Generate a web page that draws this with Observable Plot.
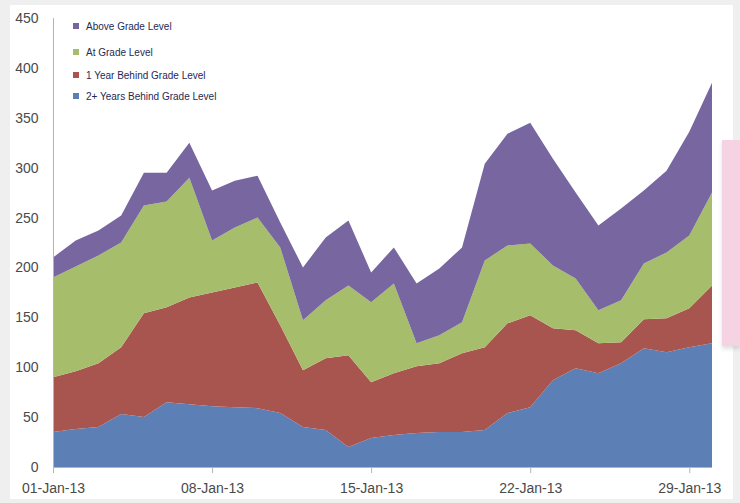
<!DOCTYPE html>
<html>
<head>
<meta charset="utf-8">
<script src="https://cdn.jsdelivr.net/npm/d3@7"></script>
<script src="https://cdn.jsdelivr.net/npm/@observablehq/plot@0.6"></script>
<style>
  html, body { margin: 0; padding: 0; }
  body { width: 740px; height: 503px; background: #efefef; position: relative; overflow: hidden; font-family: "Liberation Sans", Arial, sans-serif; }
  #panel { position: absolute; left: 10px; top: 5px; width: 723px; height: 494px; background: #ffffff; }
  #chart { position: absolute; left: 0; top: 0; }
  #legend { position: absolute; left: 0; top: 0; width: 0; height: 0; }
  .item { position: absolute; left: 73px; font-size: 10px; color: #1e2a55; white-space: nowrap; line-height: 12px; }
  .item span.sw { display: inline-block; width: 6px; height: 6px; margin-right: 7px; vertical-align: 1px; }
  #pink { position: absolute; left: 722px; top: 140px; width: 18px; height: 206px; background: #f6d3e2; box-shadow: 0 3px 4px rgba(0,0,0,0.12); }
</style>
</head>
<body>
<div id="panel"></div>
<div id="chart"></div>
<div id="legend"></div>
<div id="pink"></div>
<script>
const dates = ["2013-01-01","2013-01-02","2013-01-03","2013-01-04","2013-01-05","2013-01-06","2013-01-07","2013-01-08","2013-01-09","2013-01-10",
               "2013-01-11","2013-01-12","2013-01-13","2013-01-14","2013-01-15","2013-01-16","2013-01-17","2013-01-18","2013-01-19","2013-01-20",
               "2013-01-21","2013-01-22","2013-01-23","2013-01-24","2013-01-25","2013-01-26","2013-01-27","2013-01-28","2013-01-29","2013-01-30"];
const seriesNames = ["Above Grade Level", "At Grade Level", "1 Year Behind Grade Level", "2+ Years Behind Grade Level"];
const seriesColors = ["#7766a0", "#a6bd6b", "#a9554f", "#5c7fb6"];
const twoPlusBehind = [35,38,40,53,50,65,63,61,60,59,54,40,37,20,29,32,34,35,35,37,54,60,87,99,94,104,119,115,120,124];
const oneYearBehind = [55,58,64,67,104,95,107,114,120,126,88,57,72,92,56,62,67,69,79,83,90,92,52,38,30,21,29,34,39,58];
const atGrade       = [100,105,108,105,108,106,120,52,60,65,78,50,58,70,80,90,23,28,31,87,78,72,63,52,33,42,56,66,73,93];
const aboveGrade    = [20,26,25,27,33,29,35,50,47,42,25,53,63,65,30,36,60,67,75,97,112,121,107,86,85,92,73,82,104,110];
const yTicks = [0,50,100,150,200,250,300,350,400,450];
const xTickDates = ["2013-01-01","2013-01-08","2013-01-15","2013-01-22","2013-01-29"];

const parse = d3.utcParse("%Y-%m-%d");
const valuesBySeries = {
  "Above Grade Level": aboveGrade,
  "At Grade Level": atGrade,
  "1 Year Behind Grade Level": oneYearBehind,
  "2+ Years Behind Grade Level": twoPlusBehind
};
const stackOrder = ["2+ Years Behind Grade Level", "1 Year Behind Grade Level", "At Grade Level", "Above Grade Level"];
const rows = [];
for (const s of stackOrder) {
  valuesBySeries[s].forEach((v, i) => rows.push({date: parse(dates[i]), value: v, series: s}));
}
const fmt = d3.utcFormat("%d-%b-%y");

const chart = Plot.plot({
  width: 740,
  height: 503,
  marginLeft: 53,
  marginRight: 28,
  marginTop: 18,
  marginBottom: 36,
  style: { background: "transparent", fontFamily: "'Liberation Sans', Arial, sans-serif", fontSize: "14px", color: "#4a4a4a" },
  x: { type: "utc", domain: [parse(dates[0]), parse(dates[dates.length - 1])] },
  y: { domain: [0, 450] },
  color: { domain: seriesNames, range: seriesColors },
  marks: [
    Plot.areaY(rows, { x: "date", y: "value", fill: "series", z: "series", order: stackOrder }),
    Plot.ruleY([0], { stroke: "#b4b4b4", strokeWidth: 1 }),
    Plot.ruleX([parse(dates[0])], { stroke: "#b4b4b4", strokeWidth: 1 }),
    Plot.axisY({ ticks: yTicks, tickSize: 0, tickPadding: 15, label: null, fill: "#4a4a4a" }),
    Plot.axisX({ ticks: xTickDates.map(parse), tickFormat: fmt, tickSize: 6, tickPadding: 10, label: null, stroke: "#b4b4b4", fill: "#4a4a4a" })
  ]
});
document.getElementById("chart").appendChild(chart);

const legendTops = [21, 47, 70, 91];
const legend = document.getElementById("legend");
seriesNames.forEach((name, i) => {
  const div = document.createElement("div");
  div.className = "item";
  div.style.top = legendTops[i] + "px";
  const sw = document.createElement("span");
  sw.className = "sw";
  sw.style.background = seriesColors[i];
  div.appendChild(sw);
  div.appendChild(document.createTextNode(name));
  legend.appendChild(div);
});
</script>
</body>
</html>
